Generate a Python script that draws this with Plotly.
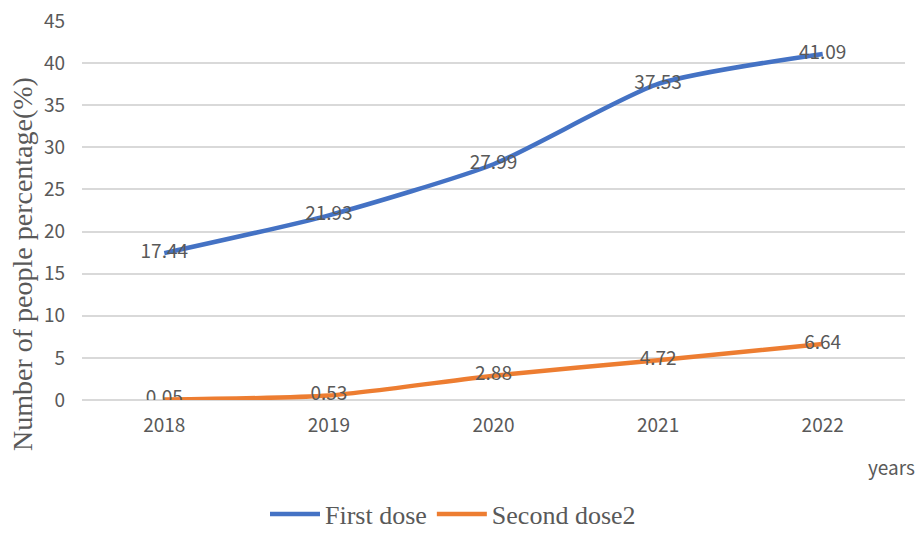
import plotly.graph_objects as go

years = ["2018", "2019", "2020", "2021", "2022"]
first_dose = [17.44, 21.93, 27.99, 37.53, 41.09]
second_dose = [0.05, 0.53, 2.88, 4.72, 6.64]
y_ticks = [0, 5, 10, 15, 20, 25, 30, 35, 40, 45]

L, R, T, B = 82, 13, 21, 133
W, H = 918, 533
pw, ph = W - L - R, H - T - B

sans = "Noto Sans CJK SC"
serif = "Liberation Serif"
gray = "#595959"

fig = go.Figure()
fig.add_trace(go.Scatter(
    x=years, y=first_dose, name="First dose", mode="lines+text",
    line=dict(color="#4472C4", width=4.5, shape="spline", smoothing=0.6),
    text=[f"{v:.2f}" for v in first_dose], textposition="middle center",
    textfont=dict(family=sans, size=19, color=gray),
))
fig.add_trace(go.Scatter(
    x=years, y=second_dose, name="Second dose2", mode="lines+text",
    line=dict(color="#ED7D31", width=4.5, shape="spline", smoothing=0.6),
    text=[f"{v:.2f}" for v in second_dose], textposition="middle center",
    textfont=dict(family=sans, size=19, color=gray),
))

fig.update_layout(
    width=W, height=H,
    margin=dict(l=L, r=R, t=T, b=B, autoexpand=False),
    plot_bgcolor="white", paper_bgcolor="white",
    xaxis=dict(type="category", range=[-0.5, 4.5], showgrid=False,
               showline=False, zeroline=False, ticks="", ticklabelstandoff=12,
               tickfont=dict(family=sans, size=19, color=gray)),
    yaxis=dict(range=[0, 45], tickvals=y_ticks, showgrid=True,
               gridcolor="#D9D9D9", gridwidth=1.5, zeroline=True,
               zerolinecolor="#D9D9D9", zerolinewidth=1.5, showline=False,
               ticks="", ticklabelstandoff=16,
               tickfont=dict(family=sans, size=19, color=gray)),
    legend=dict(orientation="h", x=(453 - L) / pw, xanchor="center",
                y=(400 - 514) / ph, yanchor="middle",
                font=dict(family=serif, size=26, color=gray),
                itemwidth=50, tracegroupgap=0),
    showlegend=True,
    annotations=[
        dict(text="Number of people percentage(%)", textangle=-90,
             xref="paper", yref="paper", x=(22 - L) / pw, y=(400 - 264) / ph,
             xanchor="center", yanchor="middle", showarrow=False,
             font=dict(family=serif, size=28, color=gray)),
        dict(text="years", xref="paper", yref="paper",
             x=(891 - L) / pw, y=(400 - 466) / ph,
             xanchor="center", yanchor="middle", showarrow=False,
             font=dict(family=sans, size=19, color=gray)),
    ],
)

fig.write_html("out.html")
